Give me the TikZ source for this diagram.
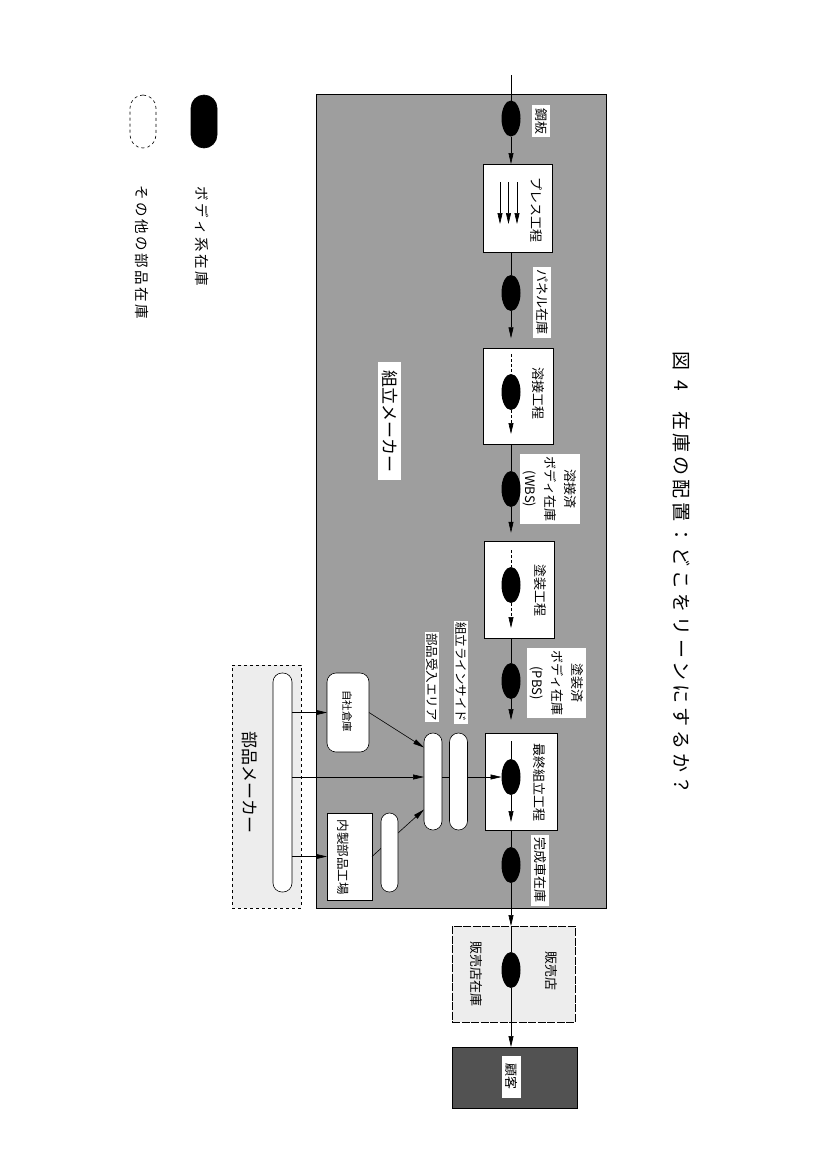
\documentclass[tikz,border=0pt]{standalone}
\usepackage{fontspec}
\setmainfont{Noto Sans CJK JP}
\usetikzlibrary{arrows.meta,shapes.geometric}
\newcommand\tkn{\kern3.8pt\relax}
\newcommand\lgk{\kern2.5pt\relax}
\begin{document}
\begin{tikzpicture}[x=1pt,y=-1pt,
  every node/.style={inner sep=0pt, outer sep=0pt},
  ln/.style={line width=0.6pt, draw=black},
  arr/.style={ln, -{Triangle[length=11pt,width=5pt]}},
  dsh/.style={dash pattern=on 3pt off 2pt},
  bigarea/.style={fill=black!38, draw=black, line width=0.6pt},
  lightarea/.style={fill=black!7, draw=black, line width=0.6pt},
  darkarea/.style={fill=black!68, draw=black, line width=0.6pt},
  plainbox/.style={draw=black, line width=0.6pt, fill=white},
  proc/.style={plainbox, minimum width=70pt, minimum height=96.5pt},
  inv/.style={ellipse, fill=black, minimum width=19pt, minimum height=36pt},
  capsule/.style={plainbox, rounded corners=9pt, minimum width=18pt},
  lbl/.style={rotate=-90, font=\fontsize{13}{20}\selectfont, align=center},
  wlbl/.style={lbl, fill=white, inner sep=3pt},
]
\path[use as bounding box, fill=white] (0,0) rectangle (827,1170);

% ---- areas
\node[bigarea, minimum width=290pt, minimum height=814pt] (assy) at (461,501) {};
\node[lightarea, dashed, minimum width=69pt, minimum height=243pt] (parts) at (266.5,786.5) {};
\node[lightarea, dash pattern=on 8pt off 1.5pt, minimum width=123pt, minimum height=96pt] (dealerbox) at (513.5,974) {};
\node[darkarea, minimum width=125pt, minimum height=61pt] (kokyaku) at (514.5,1077.5) {};

% ---- process boxes
\node[proc, minimum width=69pt, minimum height=88pt] (press) at (517.5,208) {};
\node[proc] (weld) at (518,396.5) {};
\node[proc] (paint) at (519.5,590) {};
\node[proc, minimum width=72pt, minimum height=97pt] (final) at (521,781.5) {};

% ---- parts side
\node[plainbox, rounded corners=9pt, minimum width=42pt, minimum height=79pt] (jisha) at (348,712.5) {};
\node[plainbox, minimum width=45pt, minimum height=87pt] (naisei) at (349.5,856.5) {};
\node[capsule, minimum width=19pt, minimum height=219pt] (pcap) at (282.5,782.5) {};
\node[capsule, minimum height=97pt] (ukeire) at (433,781.5) {};
\node[capsule, minimum height=97pt] (lside) at (458.5,781.5) {};

% ---- texts
\node[lbl] (t_press) at (536,210) {プレス工程};
\node[lbl] (t_weld) at (538,393) {溶接工程};
\node[lbl] (t_paint) at (540,590) {塗装工程};
\node[lbl] (t_final) at (539,782) {最終組立工程};
\node[wlbl] (l_kohan) at (541,121) {鋼板};
\node[wlbl] (l_panel) at (542,302) {パネル在庫};
\node[wlbl] (l_wbs) at (550,489) {溶接済\\ボディ在庫\\(WBS)};
\node[wlbl] (l_pbs) at (556.5,683) {塗装済\\ボディ在庫\\(PBS)};
\node[wlbl] (l_kansei) at (540,870) {完成車在庫};
\node[wlbl, font=\fontsize{17}{17}\selectfont, inner xsep=8pt, inner ysep=4pt] (l_assy) at (389.5,421) {組立メーカー};
\node[lbl, font=\fontsize{17}{17}\selectfont] (l_parts) at (250,782) {部品メーカー};
\node[wlbl, font=\fontsize{12.5}{12.5}\selectfont, inner sep=1.5pt] (l_ukeire) at (432,677) {部品受入エリア};
\node[wlbl, font=\fontsize{12.5}{12.5}\selectfont, inner sep=1.5pt] (l_lside) at (461,672) {組立ラインサイド};
\node[lbl, font=\fontsize{10.5}{10.5}\selectfont] (t_jisha) at (347,711) {自社倉庫};
\node[lbl, font=\fontsize{12.5}{12.5}\selectfont] (t_naisei) at (343,857) {内製部品工場};
\node[wlbl, inner xsep=8pt, inner ysep=4pt] (l_kokyaku) at (511.5,1076.5) {顧客};
\node[lbl] (t_dealer) at (551,971) {販売店};
\node[lbl] (t_dstock) at (476,973.5) {販売店在庫};

% ---- inventory ovals
\node[inv] (kohan) at (511,118.5) {};
\node[inv] (panel) at (511,293) {};
\node[inv] (winner) at (511,392) {};
\node[inv] (wbs) at (511,489) {};
\node[inv] (pinner) at (511,585) {};
\node[inv] (pbs) at (511,681) {};
\node[inv] (finner) at (511,777) {};
\node[inv] (kansei) at (511,865) {};
\node[inv] (doval) at (511,970) {};

% ---- coordinates for free ends
\coordinate (topin) at (511,75);
\coordinate (pa1s) at (500,182);   \coordinate (pa1e) at (500,224);
\coordinate (pa2s) at (508.5,182); \coordinate (pa2e) at (508.5,224);
\coordinate (pa3s) at (517,182);   \coordinate (pa3e) at (517,224);
\coordinate (wi_s) at (511,354);   \coordinate (wi_e) at (511,434);
\coordinate (pi_s) at (511,550);   \coordinate (pi_e) at (511,628);
\coordinate (fi_s) at (511,741);   \coordinate (fi_e) at (511,822);

% ---- main flow
\draw[ln] (topin) -- (kohan.north);
\draw[arr] (kohan.south) -- (kohan.south |- press.north);
\draw[arr] (pa1s) -- (pa1e);
\draw[arr] (pa2s) -- (pa2e);
\draw[arr] (pa3s) -- (pa3e);
\draw[ln] (panel.north |- press.south) -- (panel.north);
\draw[arr, shorten >=10pt] (panel.south) -- (panel.south |- weld.north);
\draw[ln, dsh] (wi_s) -- (winner.north);
\draw[arr, dsh] (winner.south) -- (wi_e);
\draw[ln] (wbs.north |- weld.south) -- (wbs.north);
\draw[arr, shorten >=9pt] (wbs.south) -- (wbs.south |- paint.north);
\draw[ln, dsh] (pi_s) -- (pinner.north);
\draw[arr, dsh] (pinner.south) -- (pi_e);
\draw[ln] (pbs.north |- paint.south) -- (pbs.north);
\draw[arr, shorten >=13pt] (pbs.south) -- (pbs.south |- final.north);
\draw[ln] (fi_s) -- (finner.north);
\draw[arr] (finner.south) -- (fi_e);
\draw[ln] (kansei.north |- final.south) -- (kansei.north);
\draw[arr] (kansei.south) -- (kansei.south |- dealerbox.north);
\draw[ln] (doval.north |- dealerbox.north) -- (doval.north);
\draw[arr] (doval.south) -- (doval.south |- kokyaku.north);

% ---- parts flow
\draw[arr] (pcap.east |- jisha.west) -- (jisha.west);
\draw[arr] (pcap.east |- finner) -- (ukeire.west |- finner);
\draw[arr] (pcap.east |- naisei.west) -- (naisei.west);
\draw[ln] (ukeire.east |- finner) -- (lside.west |- finner);
\draw[arr] (lside.east |- finner) -- (finner.west);
\draw[arr] (jisha.east) -- ([yshift=34pt]ukeire.west);
\draw[arr] (naisei.east) -- ([yshift=-28pt]ukeire.west);
\node[capsule, minimum width=17pt, minimum height=79pt, rounded corners=8.5pt] (scap) at (389.5,852.5) {};

% ---- legend
\node[plainbox, fill=black, rounded corners=13pt, minimum width=26pt, minimum height=53pt] (leg_b) at (204,121.5) {};
\node[plainbox, dashed, rounded corners=13pt, minimum width=26pt, minimum height=53pt] (leg_w) at (143,121.5) {};
\node[lbl, font=\fontsize{14.5}{14.5}\selectfont] (leg_bt) at (202,236) {ボ\lgk デ\lgk ィ\lgk 系\lgk 在\lgk 庫};
\node[lbl, font=\fontsize{14.5}{14.5}\selectfont] (leg_wt) at (142,252.5) {そ\lgk の\lgk 他\lgk の\lgk 部\lgk 品\lgk 在\lgk 庫};

% ---- title
\node[rotate=-90, anchor=west, font=\fontsize{19}{19}\selectfont] (title) at (681.5,351.5)
  {図\kern10pt 4\kern20pt 在\tkn 庫\tkn の\tkn 配\tkn 置\tkn ：\tkn ど\tkn こ\tkn を\tkn リ\tkn ー\tkn ン\tkn に\tkn す\tkn る\tkn か\tkn ？};
\end{tikzpicture}
\end{document}
